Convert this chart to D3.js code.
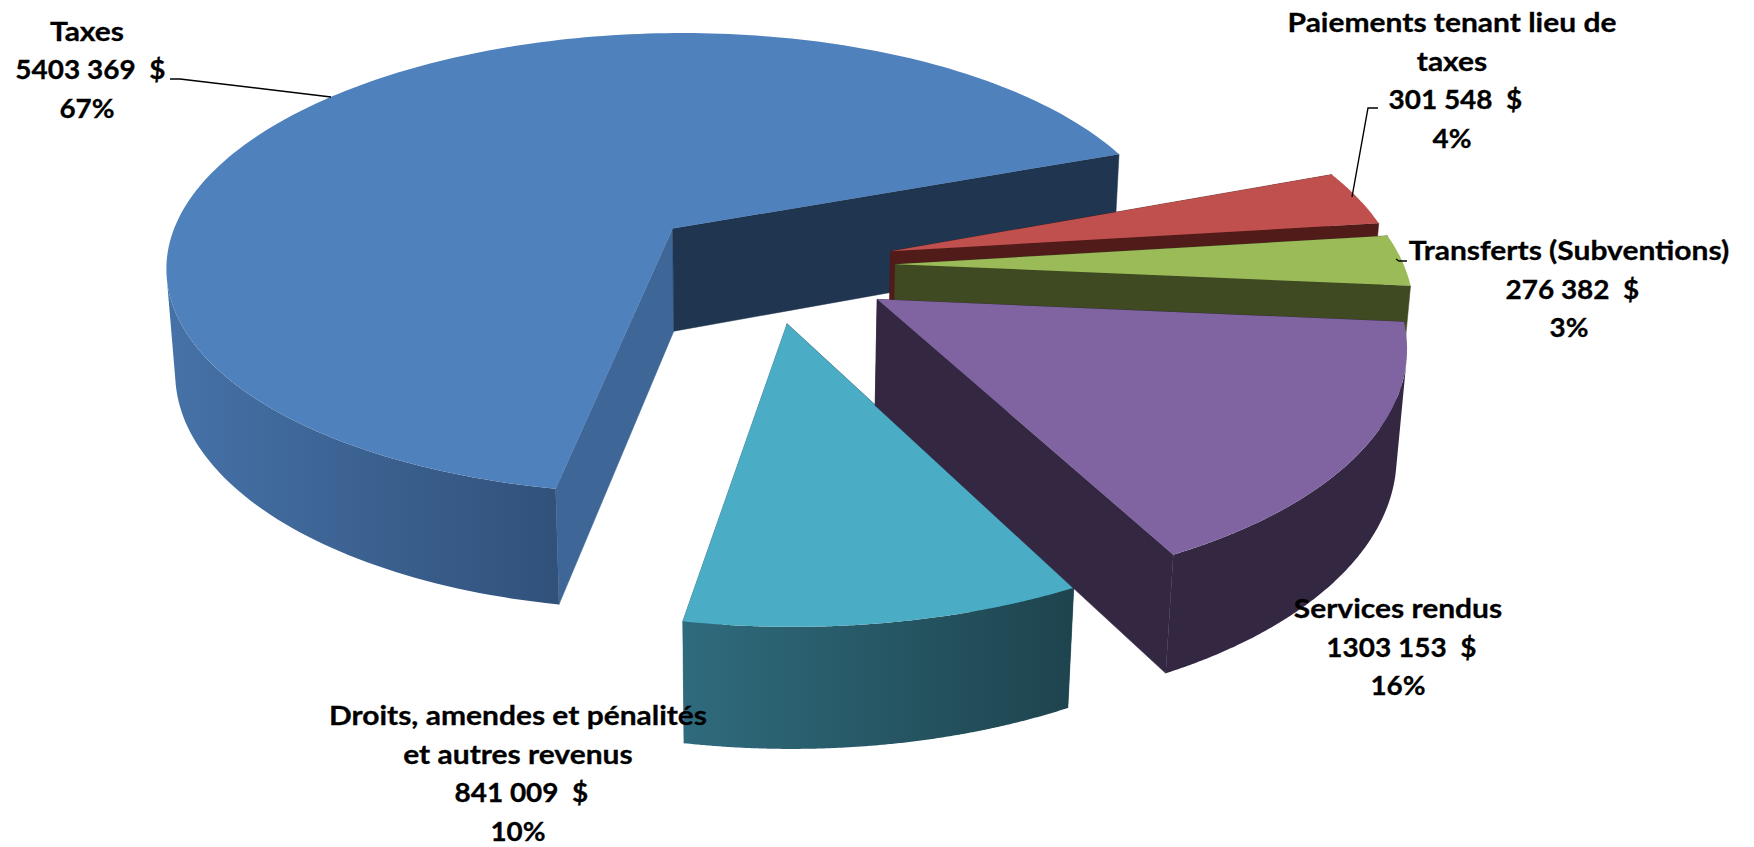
<!DOCTYPE html>
<html><head><meta charset="utf-8">
<script src="https://cdn.jsdelivr.net/npm/d3@7"></script>
<style>
body{margin:0;background:#fff;overflow:hidden}
text{font-family:Lato,"Open Sans",sans-serif;font-weight:700;font-size:27px;fill:#000;stroke:#000;stroke-width:0.3px;white-space:pre;text-anchor:middle}
</style></head>
<body><svg width="1754" height="847"></svg>
<script>
var categories = ["Taxes", "Paiements tenant lieu de taxes", "Transferts (Subventions)", "Services rendus", "Droits, amendes et pénalités et autres revenus"];
var revenues = [5403369, 301548, 276382, 1303153, 841009];
var amountLabels = ["5403 369  $", "301 548  $", "276 382  $", "1303 153  $", "841 009  $"];
var percentLabels = ["67%", "4%", "3%", "16%", "10%"];
var nameLines = [["Taxes"], ["Paiements tenant lieu de", "taxes"], ["Transferts (Subventions)"], ["Services rendus"], ["Droits, amendes et pénalités", "et autres revenus"]];

var topColors = ["#4f81bd", "#c0504d", "#9bbb59", "#8064a2", "#4bacc6"];
var startWall = ["#3e6797", "#501b19", "#3f4a22", "#332742", "#1e444e"];
var endWall = ["#1f3550", "#501b19", "#3f4a22", "#332742", "#2e6a7c"];
var rimLeft = ["#4672a8", "#501b19", "#3f4a22", "#332742", "#2f6b7d"];
var rimRight = ["#31517a", "#501b19", "#3f4a22", "#332742", "#1e444e"];
var explode = [0.2478, 0.2512, 0.2511, 0.2528, 0.2412];

// label block: centre x, first baseline
var labelPos = [[87, 40.7], [1452, 32], [1569, 260], [1398, 618], [518, 725.2]];
var leaders = [
  [[170, 79], [180, 79], [331, 97]],
  [[1378, 108], [1368, 108], [1352, 197]],
  [[1396, 259], [1399, 261], [1407, 261]]
];

var rad = Math.PI / 180;
var svg = d3.select("svg");
var line = d3.line();

var arcs = d3.pie().sort(null).startAngle(-159.4 * rad).endAngle(200.6 * rad)(revenues);

// plane of the pie seen through a camera: X right, Y away, Z down through the thickness
function project(X, Y, Z) {
  var w = 1 + 0.02963 * X + 0.15166 * Y + 0.01529 * Z;
  return [(767.69 + 523.48 * X + 21.74 * Y + 11.45 * Z) / w,
          (265.21 - 34.88 * X - 192.01 * Y + 110.15 * Z) / w];
}

var defs = svg.append("defs");

function drawSlice(i) {
  var a = arcs[i],
      mid = (a.startAngle + a.endAngle) / 2,
      ox = explode[i] * Math.sin(mid),
      oy = explode[i] * Math.cos(mid);

  var rimAt = function(t, z) { return project(ox + Math.sin(t), oy + Math.cos(t), z); };
  var apex = function(z) { return project(ox, oy, z); };
  var angles = d3.range(0, 201).map(function(k) { return a.startAngle + (a.endAngle - a.startAngle) * k / 200; });

  var grad = defs.append("linearGradient").attr("id", "rim" + i);
  grad.append("stop").attr("offset", 0).attr("stop-color", rimLeft[i]);
  grad.append("stop").attr("offset", 1).attr("stop-color", rimRight[i]);

  // cut walls
  svg.append("path")
    .attr("d", line([apex(0), rimAt(a.startAngle, 0), rimAt(a.startAngle, 1), apex(1)]) + "Z")
    .attr("fill", startWall[i])
    .attr("stroke", startWall[i]).attr("stroke-width", 0.5);
  svg.append("path")
    .attr("d", line([apex(0), rimAt(a.endAngle, 0), rimAt(a.endAngle, 1), apex(1)]) + "Z")
    .attr("fill", endWall[i])
    .attr("stroke", endWall[i]).attr("stroke-width", 0.5);

  // outer wall, only the strips that face the viewer
  var strips = "";
  angles.slice(1).forEach(function(t, k) {
    var q = [rimAt(angles[k], 0), rimAt(t, 0), rimAt(t, 1), rimAt(angles[k], 1)];
    if (d3.polygonArea(q) > 0) strips += line(q) + "Z";
  });
  svg.append("path").attr("d", strips).attr("fill", "url(#rim" + i + ")");

  // top face
  var top = [apex(0)].concat(angles.map(function(t) { return rimAt(t, 0); }));
  svg.append("path").attr("d", line(top) + "Z").attr("fill", topColors[i]);
}

// back to front
[0, 4, 1, 2, 3].forEach(drawSlice);

leaders.forEach(function(d) {
  svg.append("path").attr("d", line(d)).attr("fill", "none").attr("stroke", "#000").attr("stroke-width", 1.4);
});

categories.forEach(function(c, i) {
  var rows = nameLines[i].map(function(t) { return {t: t, stretch: 1.11, dx: 0}; })
    .concat([{t: amountLabels[i], stretch: 1.035, dx: 3.4}, {t: percentLabels[i], stretch: 1.03, dx: 0}]);
  svg.append("g").attr("class", "label").selectAll("text")
    .data(rows)
    .enter().append("text")
      .attr("x", function(d) { return labelPos[i][0] + d.dx; })
      .attr("y", function(d, k) { return labelPos[i][1] + k * 38.6; })
      .text(function(d) { return d.t; })
      .attr("lengthAdjust", "spacingAndGlyphs")
      .attr("textLength", function(d) { return this.getComputedTextLength() * d.stretch; });
});
</script></body></html>
